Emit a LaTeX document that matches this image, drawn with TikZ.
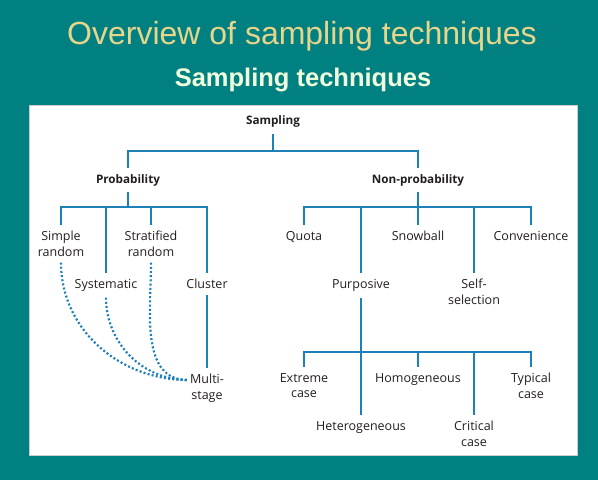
\documentclass[tikz,border=0pt]{standalone}
\usepackage{fontspec}
\setmainfont{Liberation Sans}
\newfontfamily\treefont{Open Sans}
\definecolor{slideteal}{RGB}{0,128,128}
\definecolor{titlegold}{RGB}{230,213,138}
\definecolor{subcream}{RGB}{240,255,222}
\definecolor{treeblue}{RGB}{30,128,185}
\definecolor{treetext}{RGB}{35,31,32}
\begin{document}
\begin{tikzpicture}[
    x=1pt, y=-1pt,
    branch/.style={draw=treeblue, line width=2.6pt},
    link/.style={draw=treeblue, line width=2.2pt, dash pattern=on 2pt off 2.2pt},
    leaf/.style={
        font=\treefont\fontsize{12.5}{15.5}\selectfont,
        text=treetext,
        align=center,
        inner xsep=1pt,
        inner ysep=6pt
    },
    head/.style={leaf, font=\treefont\bfseries\fontsize{11.7}{14}\selectfont}
]

\useasboundingbox (0,0) rectangle (598,480);

% Slide background
\fill[slideteal] (0,0) rectangle (598,480);
\node[font=\fontsize{32}{36}\selectfont, text=titlegold, anchor=base] (ttl) at (302,44) {Overview of sampling techniques};
\node[font=\bfseries\fontsize{25.5}{30}\selectfont, text=subcream, anchor=base] (sub) at (303,86) {Sampling techniques};

% Panel
\draw[fill=white, draw=gray!40, line width=1pt] (29,105) rectangle (577,455);

% Top levels
\node[head, anchor=south] (samp) at (273,134) {Sampling};
\node[head, anchor=north] (prob) at (128,168) {Probability};
\node[head, anchor=north] (nonp) at (418,168) {Non-probability};

% Probability techniques
\node[leaf, anchor=north] (simple) at (61,225) {Simple\\random};
\node[leaf, anchor=north] (system) at (106,273) {Systematic};
\node[leaf, anchor=north] (strat) at (151,225) {Stratified\\random};
\node[leaf, anchor=north] (cluster) at (207,273) {Cluster};
\node[leaf, anchor=north] (multi) at (207,368) {Multi-\\stage};

% Non-probability techniques
\node[leaf, anchor=north] (quota) at (304,225) {Quota};
\node[leaf, anchor=north] (purp) at (361,273) {Purposive};
\node[leaf, anchor=north] (snow) at (418,225) {Snowball};
\node[leaf, anchor=north] (self) at (474,273) {Self-\\selection};
\node[leaf, anchor=north] (conv) at (531,225) {Convenience};

% Purposive techniques
\node[leaf, anchor=north] (extreme) at (304,367) {Extreme\\case};
\node[leaf, anchor=north] (hetero) at (361,415) {Heterogeneous};
\node[leaf, anchor=north] (homo) at (418,367) {Homogeneous};
\node[leaf, anchor=north] (crit) at (474,415) {Critical\\case};
\node[leaf, anchor=north] (typ) at (531,367) {Typical\\case};

% Bus junctions
\coordinate (sbus) at (273,151);
\coordinate (pbus) at (128,207);
\coordinate (nbus) at (418,207);
\coordinate (qbus) at (361,352);

% Branches
\draw[branch] (samp.south) -- (sbus);
\foreach \c in {prob,nonp}
    \draw[branch] (sbus) -| (\c.north);
\draw[branch] (prob.south) -- (pbus);
\foreach \c in {simple,system,strat,cluster}
    \draw[branch] (pbus) -| (\c.north);
\draw[branch] (nonp.south) -- (nbus);
\foreach \c in {quota,purp,snow,self,conv}
    \draw[branch] (nbus) -| (\c.north);
\draw[branch] (purp.south) -- (hetero.north);
\foreach \c in {extreme,homo,crit,typ}
    \draw[branch] (qbus) -| (\c.north);
\draw[branch] (cluster.south) -- (multi.north);

% Multi-stage links
\foreach \c in {simple,system,strat}
    \draw[link] (\c.south) to[out=-90, in=180] ([xshift=-1pt, yshift=-12pt]multi.north west);

\end{tikzpicture}
\end{document}
